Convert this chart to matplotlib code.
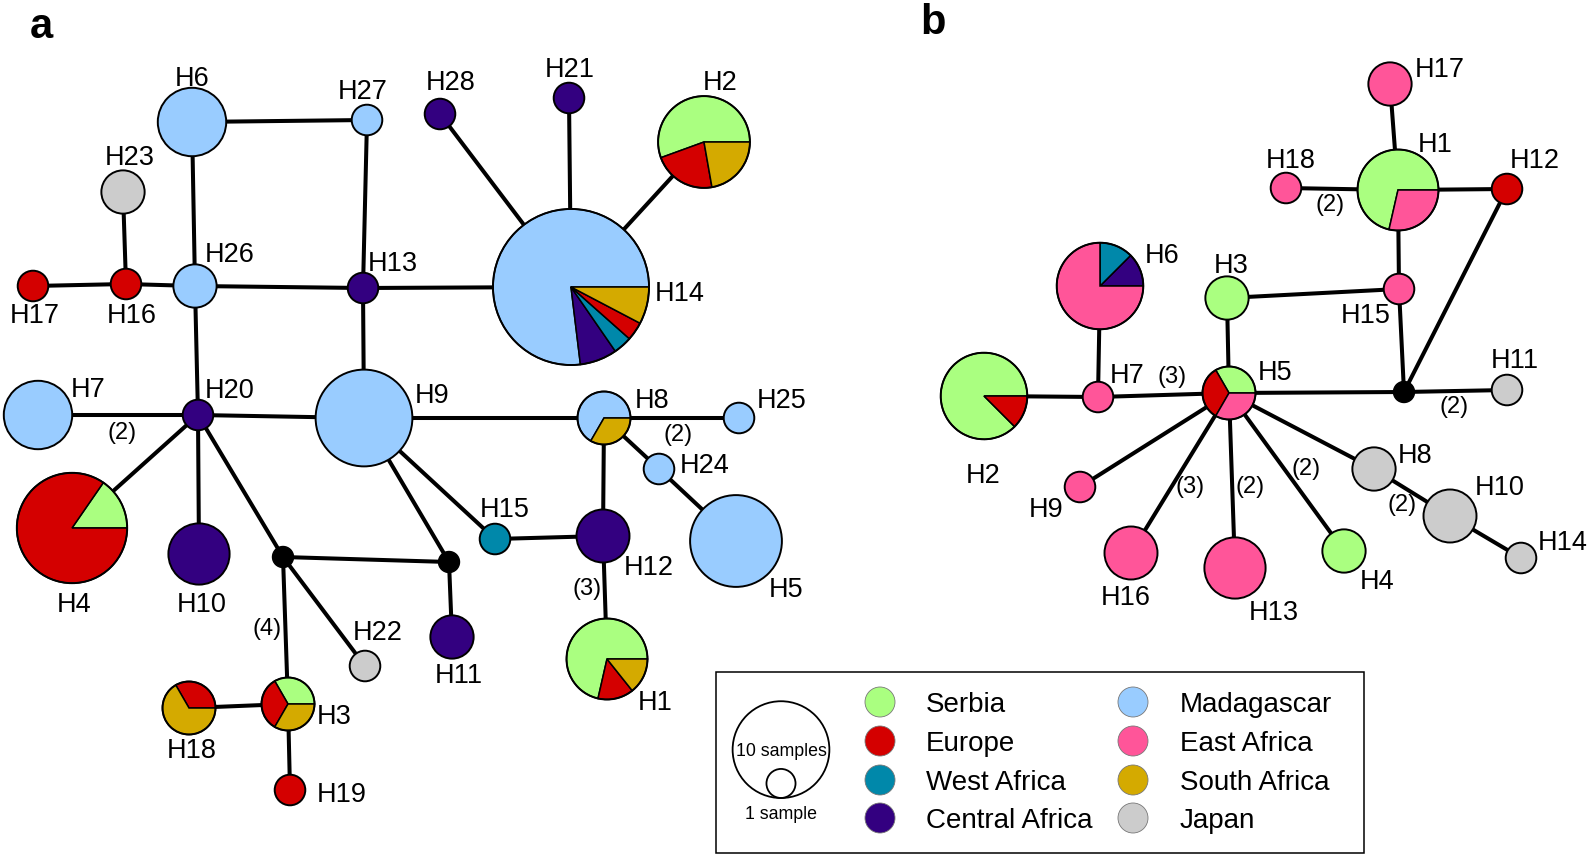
import numpy as np
import matplotlib.pyplot as plt
from matplotlib.patches import Wedge, Circle, Rectangle

plt.rcParams['font.family'] = ['Liberation Sans', 'DejaVu Sans']

regions = ['Serbia', 'Europe', 'West Africa', 'Central Africa',
           'Madagascar', 'East Africa', 'South Africa', 'Japan']
region_colors = ['#aaff80', '#d40000', '#0088aa', '#330080',
                 '#99ccff', '#ff5599', '#d4aa00', '#cccccc']
col = dict(zip(regions, region_colors))

# haplotype composition (samples per region), panel a
comp_a = {
    'H1': [('Serbia', 5), ('Europe', 1), ('South Africa', 1)],
    'H2': [('Serbia', 5), ('Europe', 2), ('South Africa', 2)],
    'H3': [('Serbia', 1), ('Europe', 1), ('South Africa', 1)],
    'H4': [('Serbia', 2), ('Europe', 11)],
    'H5': [('Madagascar', 9)],
    'H6': [('Madagascar', 5)],
    'H7': [('Madagascar', 5)],
    'H8': [('Madagascar', 2), ('South Africa', 1)],
    'H9': [('Madagascar', 10)],
    'H10': [('Central Africa', 4)],
    'H11': [('Central Africa', 2)],
    'H12': [('Central Africa', 3)],
    'H13': [('Central Africa', 1)],
    'H14': [('Madagascar', 20), ('Central Africa', 2), ('West Africa', 1),
            ('Europe', 1), ('South Africa', 2)],
    'H15': [('West Africa', 1)],
    'H16': [('Europe', 1)],
    'H17': [('Europe', 1)],
    'H18': [('Europe', 1), ('South Africa', 2)],
    'H19': [('Europe', 1)],
    'H20': [('Central Africa', 1)],
    'H21': [('Central Africa', 1)],
    'H22': [('Japan', 1)],
    'H23': [('Japan', 2)],
    'H24': [('Madagascar', 1)],
    'H25': [('Madagascar', 1)],
    'H26': [('Madagascar', 2)],
    'H27': [('Madagascar', 1)],
    'H28': [('Central Africa', 1)],
}

# panel b
comp_b = {
    'H1': [('Serbia', 5), ('East Africa', 2)],
    'H2': [('Serbia', 7), ('Europe', 1)],
    'H3': [('Serbia', 2)],
    'H4': [('Serbia', 2)],
    'H5': [('Serbia', 1), ('Europe', 1), ('East Africa', 1)],
    'H6': [('Central Africa', 1), ('West Africa', 1), ('East Africa', 6)],
    'H7': [('East Africa', 1)],
    'H8': [('Japan', 2)],
    'H9': [('East Africa', 1)],
    'H10': [('Japan', 3)],
    'H11': [('Japan', 1)],
    'H12': [('Europe', 1)],
    'H13': [('East Africa', 4)],
    'H14': [('Japan', 1)],
    'H15': [('East Africa', 1)],
    'H16': [('East Africa', 3)],
    'H17': [('East Africa', 2)],
    'H18': [('East Africa', 1)],
}

# network edges (node, node, mutation steps)
edges_a = [('H6', 'H27', 1), ('H6', 'H26', 1), ('H27', 'H13', 1), ('H23', 'H16', 1),
           ('H17', 'H16', 1), ('H16', 'H26', 1), ('H26', 'H13', 1), ('H26', 'H20', 1),
           ('H13', 'H14', 1), ('H13', 'H9', 1), ('H28', 'H14', 1), ('H21', 'H14', 1),
           ('H2', 'H14', 1), ('H7', 'H20', 2), ('H20', 'H9', 1), ('H20', 'H4', 1),
           ('H20', 'H10', 1), ('H20', 'mv2', 1), ('mv2', 'mv1', 1), ('mv2', 'H3', 4),
           ('mv2', 'H22', 1), ('H18', 'H3', 1), ('H3', 'H19', 1), ('H9', 'mv1', 1),
           ('mv1', 'H11', 1), ('H9', 'H15', 1), ('H9', 'H8', 1), ('H15', 'H12', 1),
           ('H8', 'H12', 1), ('H12', 'H1', 3), ('H8', 'H25', 2), ('H8', 'H24', 1),
           ('H24', 'H5', 1)]
edges_b = [('H17', 'H1', 1), ('H18', 'H1', 2), ('H1', 'H12', 1), ('H1', 'H15', 1),
           ('H15', 'H3', 1), ('H15', 'mv1', 1), ('H12', 'mv1', 1), ('mv1', 'H11', 2),
           ('H5', 'mv1', 1), ('H6', 'H7', 1), ('H2', 'H7', 1), ('H7', 'H5', 3),
           ('H3', 'H5', 1), ('H5', 'H9', 1), ('H5', 'H16', 3), ('H5', 'H13', 2),
           ('H5', 'H4', 2), ('H5', 'H8', 1), ('H8', 'H10', 2), ('H10', 'H14', 1)]

# ---- layout (pixel positions) ----
pos_a = {'H1': (607, 659), 'H2': (704, 142), 'H3': (288, 704), 'H4': (72, 528),
         'H5': (736, 541), 'H6': (192, 122), 'H7': (38, 415), 'H8': (604, 418),
         'H9': (364, 418), 'H10': (199, 554), 'H11': (452, 637), 'H12': (603, 536),
         'H13': (363, 288), 'H14': (571, 287), 'H15': (495, 539), 'H16': (126, 284),
         'H17': (33, 286), 'H18': (189, 708), 'H19': (290, 790), 'H20': (198, 415),
         'H21': (569, 98), 'H22': (365, 666), 'H23': (123, 192), 'H24': (659, 469),
         'H25': (739, 418), 'H26': (195, 286), 'H27': (367, 120), 'H28': (440, 114),
         'mv1': (449, 562), 'mv2': (283, 557)}
lab_a = {'H1': (655, 700), 'H2': (720, 80), 'H3': (334, 714), 'H4': (74, 602),
         'H5': (786, 587), 'H6': (192, 76), 'H7': (88, 387), 'H8': (652, 398),
         'H9': (432, 393), 'H10': (202, 602), 'H11': (459, 673), 'H12': (649, 565),
         'H13': (393, 261), 'H14': (680, 291), 'H15': (505, 507), 'H16': (132, 313),
         'H17': (35, 313), 'H18': (192, 748), 'H19': (342, 792), 'H20': (230, 388),
         'H21': (570, 67), 'H22': (378, 630), 'H23': (130, 155), 'H24': (705, 463),
         'H25': (782, 398), 'H26': (230, 252), 'H27': (363, 89), 'H28': (451, 80)}
step_lab_a = {('H7', 'H20'): (122, 432), ('mv2', 'H3'): (267, 628),
              ('H12', 'H1'): (587, 588), ('H8', 'H25'): (678, 434)}

pos_b = {'H1': (1398, 190), 'H2': (984, 396), 'H3': (1227, 298), 'H4': (1344, 551),
         'H5': (1229, 393), 'H6': (1100, 286), 'H7': (1098, 397), 'H8': (1374, 469),
         'H9': (1080, 487), 'H10': (1450, 516), 'H11': (1507, 390), 'H12': (1507, 189),
         'H13': (1235, 568), 'H14': (1521, 558), 'H15': (1399, 289), 'H16': (1131, 553),
         'H17': (1390, 84), 'H18': (1286, 188), 'mv1': (1404, 392)}
lab_b = {'H1': (1435, 142), 'H2': (983, 473), 'H3': (1231, 263), 'H4': (1377, 579),
         'H5': (1275, 370), 'H6': (1162, 253), 'H7': (1127, 373), 'H8': (1415, 453),
         'H9': (1046, 507), 'H10': (1500, 485), 'H11': (1515, 358), 'H12': (1535, 158),
         'H13': (1274, 610), 'H14': (1563, 540), 'H15': (1366, 313), 'H16': (1126, 595),
         'H17': (1440, 67), 'H18': (1291, 158)}
step_lab_b = {('H18', 'H1'): (1330, 205), ('mv1', 'H11'): (1454, 407),
              ('H7', 'H5'): (1172, 377), ('H5', 'H16'): (1190, 487),
              ('H5', 'H13'): (1250, 487), ('H5', 'H4'): (1306, 468),
              ('H8', 'H10'): (1402, 505)}

R1 = 15.3      # radius of a 1-sample node
EM_LAB = 19.5  # node label font size (pt)

fig = plt.figure(figsize=(15.93, 8.6), dpi=100)
ax = fig.add_axes([0, 0, 1, 1])
ax.set_xlim(0, 1593)
ax.set_ylim(860, 0)
ax.axis('off')


def ctext(x, y, s, size, **kw):
    # x,y = visual centre of the capitals
    ax.text(x, y + 0.716 * size * 100 / 72 / 2, s, fontsize=size,
            ha='center', va='baseline', **kw)


def draw_node(xy, parts, r=None):
    total = sum(n for _, n in parts)
    if r is None:
        r = R1 * np.sqrt(total)
    if len(parts) == 1:
        ax.add_patch(Circle(xy, r, fc=col[parts[0][0]], ec='black', lw=1.4, zorder=3))
        return
    start = 0.0
    for reg, n in parts:
        span = 360.0 * n / total
        ax.add_patch(Wedge(xy, r, -(start + span), -start, fc=col[reg],
                           ec='black', lw=1.1, zorder=3))
        start += span
    ax.add_patch(Circle(xy, r, fc='none', ec='black', lw=1.4, zorder=4))


def draw_network(comp, pos, lab, edges, step_lab):
    for u, v, k in edges:
        (x1, y1), (x2, y2) = pos[u], pos[v]
        ax.plot([x1, x2], [y1, y2], color='black', lw=2.9, zorder=1,
                solid_capstyle='butt')
        if k > 1:
            sx, sy = step_lab[(u, v)]
            ax.text(sx, sy + 6.5, f'({k})', fontsize=17, ha='center', va='baseline')
    for name, xy in pos.items():
        if name.startswith('mv'):
            ax.add_patch(Circle(xy, 10.5, fc='black', ec='black', zorder=3))
        else:
            draw_node(xy, comp[name])
            ctext(*lab[name], name, EM_LAB)


draw_network(comp_a, pos_a, lab_a, edges_a, step_lab_a)
draw_network(comp_b, pos_b, lab_b, edges_b, step_lab_b)

ctext(41, 23, 'a', 30, fontweight='bold')
ctext(933, 19, 'b', 30, fontweight='bold')

# ---- legend ----
ax.add_patch(Rectangle((716, 672), 648, 181, fc='white', ec='black', lw=1.1, zorder=2))
r10 = R1 * np.sqrt(10)
ax.add_patch(Circle((781, 798 - r10), r10, fc='none', ec='black', lw=1.3, zorder=3))
ax.add_patch(Circle((781, 798 - R1 * 0.95), R1 * 0.95, fc='none', ec='black', lw=1.3, zorder=3))
ctext(781, 750, '10 samples', 12.8)
ctext(781, 813, '1 sample', 12.8)

leg_order = [['Serbia', 'Europe', 'West Africa', 'Central Africa'],
             ['Madagascar', 'East Africa', 'South Africa', 'Japan']]
row_y = [702, 741, 780, 818]
for ci, (dot_x, txt_x) in enumerate([(880, 926), (1133, 1180)]):
    for ri, reg in enumerate(leg_order[ci]):
        ax.add_patch(Circle((dot_x, row_y[ri]), 15, fc=col[reg], ec='#777777',
                            lw=0.6, zorder=3))
        ax.text(txt_x, row_y[ri] + 10, reg, fontsize=20, ha='left', va='baseline')

fig.savefig('out.png', dpi=100)
